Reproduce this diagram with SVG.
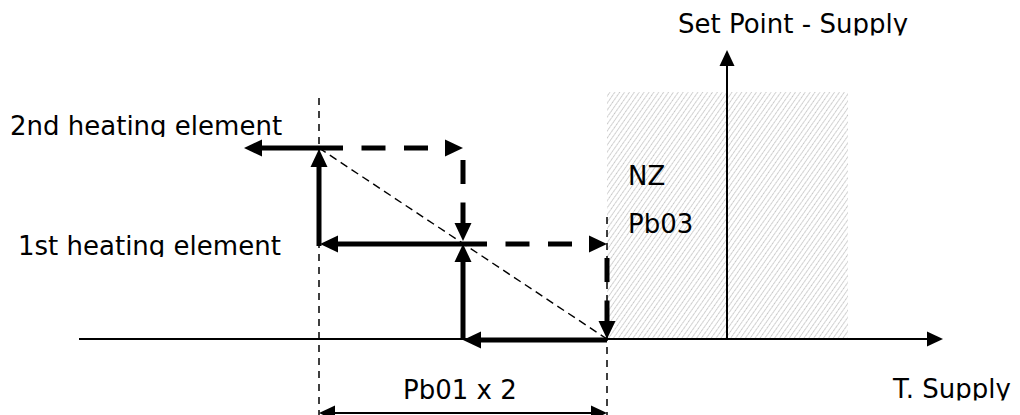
<svg xmlns="http://www.w3.org/2000/svg" width="1020" height="415" viewBox="0 0 1020 415">
<style>
text{font-family:"DejaVu Sans",Verdana,sans-serif;font-size:26px;fill:#000}
.thick{stroke:#000;stroke-width:5;fill:none}
.dash{stroke-dasharray:24 18.5}
.thin{stroke:#000;stroke-width:1.5;fill:none;stroke-dasharray:7 6}
.diag{stroke:#000;stroke-width:1.4;fill:none;stroke-dasharray:8 5}
.axis{stroke:#000;stroke-width:2;fill:none}
</style>
<defs>
<marker id="big" markerUnits="userSpaceOnUse" markerWidth="18" markerHeight="17" refX="0" refY="8.5" orient="auto" overflow="visible">
<path d="M0,0 L18,8.5 L0,17 z" fill="#000"/>
</marker>
<marker id="small" markerUnits="userSpaceOnUse" markerWidth="16" markerHeight="15" refX="0" refY="7.5" orient="auto-start-reverse" overflow="visible">
<path d="M0,0 L16,7.5 L0,15 z" fill="#000"/>
</marker>
<pattern id="hatch" patternUnits="userSpaceOnUse" width="4" height="4" patternTransform="rotate(35)">
<line x1="0" y1="0" x2="0" y2="4" stroke="#8c8c8c" stroke-width="1" stroke-dasharray="1.5 0.7"/>
</pattern>
<clipPath id="c2"><rect x="0" y="100" width="320" height="37"/></clipPath>
<clipPath id="c1"><rect x="0" y="220" width="320" height="37"/></clipPath>
<clipPath id="cs"><rect x="660" y="0" width="300" height="35.5"/></clipPath>
<clipPath id="ct"><rect x="860" y="360" width="160" height="40.5"/></clipPath>
</defs>
<g id="neutral-zone">
<rect x="607" y="92" width="241" height="247" fill="url(#hatch)"/>
</g>
<g id="connectors">
<line class="thin" x1="319" y1="98" x2="319" y2="415"/>
<line class="thin" x1="607" y1="217" x2="607" y2="415"/>
<line class="diag" x1="319" y1="148" x2="607" y2="339"/>
<line class="axis" x1="79" y1="339" x2="927" y2="339" marker-end="url(#small)"/>
<line class="axis" x1="727" y1="339" x2="727" y2="66" marker-end="url(#small)"/>
<line class="axis" x1="335" y1="413" x2="591" y2="413" marker-start="url(#small)" marker-end="url(#small)"/>
<line class="thick" x1="319" y1="148" x2="262" y2="148" marker-end="url(#big)"/>
<line class="thick" x1="319" y1="246" x2="319" y2="167" marker-end="url(#big)"/>
<line class="thick" x1="463" y1="244" x2="338" y2="244" marker-end="url(#big)"/>
<line class="thick" x1="463" y1="340" x2="463" y2="262" marker-end="url(#big)"/>
<line class="thick" x1="607" y1="340" x2="481" y2="340" marker-end="url(#big)"/>
<line class="thick dash" x1="319" y1="148" x2="445" y2="148" marker-end="url(#big)"/>
<line class="thick dash" x1="463" y1="160" x2="463" y2="223" marker-end="url(#big)"/>
<line class="thick dash" x1="463" y1="244" x2="589" y2="244" marker-end="url(#big)"/>
<line class="thick dash" x1="607" y1="258" x2="607" y2="321" marker-end="url(#big)"/>
</g>
<g id="label-2nd"><text x="10" y="135" clip-path="url(#c2)">2nd heating element</text></g>
<g id="label-1st"><text x="18" y="255" clip-path="url(#c1)">1st heating element</text></g>
<g id="label-setpoint"><text x="678" y="33" clip-path="url(#cs)">Set Point - Supply</text></g>
<g id="label-tsupply"><text x="893" y="398" clip-path="url(#ct)">T. Supply</text></g>
<g id="label-nz"><text x="628" y="185">NZ</text></g>
<g id="label-pb03"><text x="628" y="233">Pb03</text></g>
<g id="label-pb01"><text x="403" y="399">Pb01 x 2</text></g>
</svg>
